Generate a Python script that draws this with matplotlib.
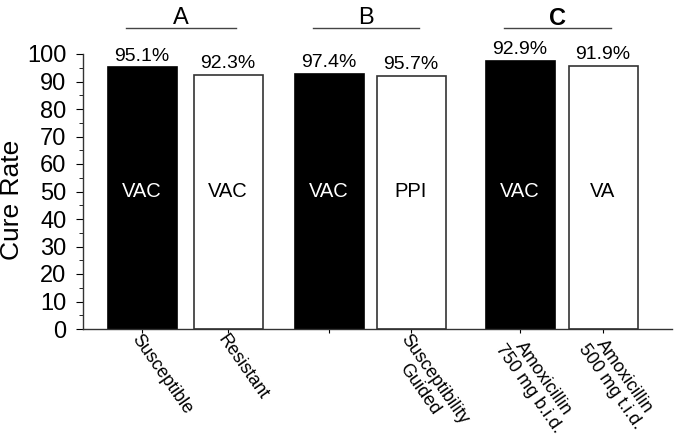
import matplotlib
matplotlib.use("Agg")
from matplotlib import pyplot as plt
from matplotlib.ticker import MultipleLocator

plt.rcParams['font.family'] = ['Liberation Sans', 'DejaVu Sans']

# bar heights as drawn, and the printed percentage labels
heights = [95.1, 92.3, 92.9, 91.9, 97.4, 95.7]
pct_labels = ["95.1%", "92.3%", "97.4%", "95.7%", "92.9%", "91.9%"]
inner_labels = ["VAC", "VAC", "VAC", "PPI", "VAC", "VA"]
tick_labels = ["Susceptible", "Resistant", "", "Susceptibility\nGuided",
               "Amoxicillin\n750 mg b.i.d.", "Amoxicillin\n500 mg t.i.d."]
groups = ["A", "B", "C"]
filled = [True, False, True, False, True, False]

# layout (pixel-like x units)
xpos = [142, 228, 329, 411, 520, 603]
width = 69

fig = plt.figure(figsize=(6.75, 4.38), dpi=100)
ax = fig.add_axes([83 / 675, 1 - 329 / 438, (672 - 83) / 675, (329 - 54) / 438])

for x, h, f, inner, pl in zip(xpos, heights, filled, inner_labels, pct_labels):
    ax.bar(x, h, width=width, color='black' if f else 'white',
           edgecolor='black' if f else '#333333', linewidth=1.2)
    ax.text(x, 50, inner, ha='center', va='center', fontsize=14.5,
            color='white' if f else 'black')
    ax.annotate(pl, (x, h), xytext=(0, 2), textcoords='offset points',
                ha='center', va='bottom', fontsize=14)

# group headers with lines
for i, g in enumerate(groups):
    x0, x1 = xpos[2 * i], xpos[2 * i + 1]
    ax.plot([x0 - 16, x1 + 8], [109.4, 109.4], color='#444444', lw=1.0,
            clip_on=False)
    ax.text((x0 + x1) / 2 - 4, 113, g, ha='center', va='center', fontsize=17,
            fontweight='bold' if g == 'C' else 'normal')

ax.set_xlim(83, 672)
ax.set_ylim(0, 100)
ax.yaxis.set_major_locator(MultipleLocator(10))
ax.yaxis.set_minor_locator(MultipleLocator(5))
ax.tick_params(axis='y', which='major', direction='out', length=5, labelsize=17,
               pad=7)
ax.tick_params(axis='y', which='minor', direction='out', length=3)
ax.set_xticks(xpos)
ax.set_xticklabels(tick_labels, rotation=-55, ha='left', va='top',
                   rotation_mode='anchor', fontsize=13, multialignment='center',
                   linespacing=1.05)
ax.tick_params(axis='x', direction='out', length=3, pad=-1.5)
ax.set_ylabel("Cure Rate", fontsize=19)
ax.yaxis.set_label_coords(-0.101, 0.47)

for s in ['top', 'right']:
    ax.spines[s].set_visible(False)
for s in ['left', 'bottom']:
    ax.spines[s].set_linewidth(1.0)
    ax.spines[s].set_color('#333333')

fig.savefig("out.png", dpi=100)
